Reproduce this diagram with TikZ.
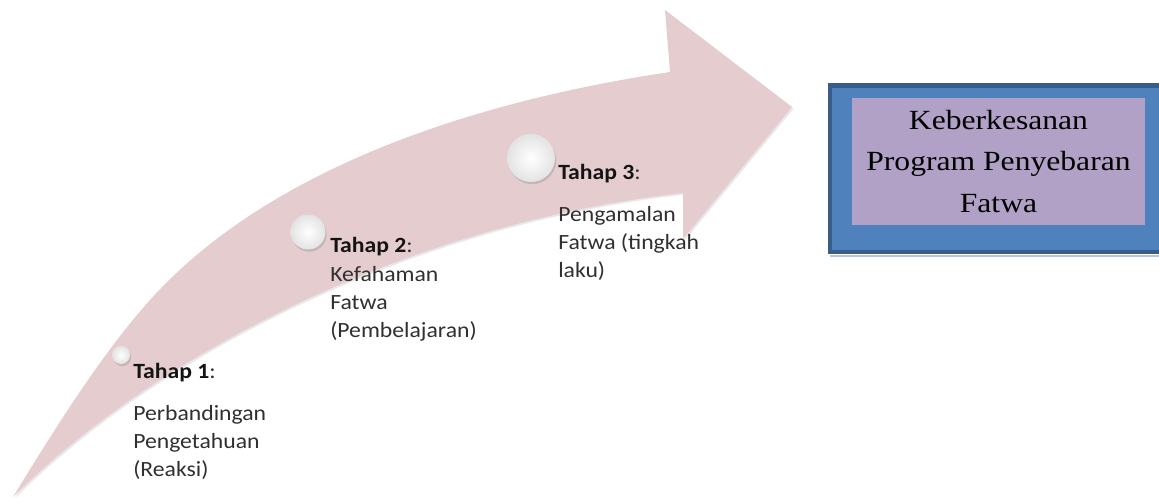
\documentclass[tikz,border=0pt]{standalone}
\usepackage{fontspec}
\newfontfamily\calib[FakeStretch=1.09]{Carlito}
\newfontfamily\timesr[FakeStretch=1.14]{Liberation Serif}
\usetikzlibrary{shadows}
\definecolor{arrowpink}{RGB}{229,204,206}
\definecolor{boxblue}{RGB}{79,129,189}
\definecolor{boxedge}{RGB}{56,93,138}
\definecolor{boxpurple}{RGB}{178,161,199}
\definecolor{txtgray}{RGB}{48,48,48}
\definecolor{txtdark}{RGB}{20,20,20}
\begin{document}
\begin{tikzpicture}[x=0.75pt,y=-0.75pt,
  steptitle/.style={anchor=base west, inner sep=0pt, text=txtgray,
    font=\calib\fontsize{16.3}{21}\selectfont},
  stepbody/.style={anchor=base west, inner sep=0pt, align=left, text=txtgray,
    font=\calib\fontsize{16.3}{21}\selectfont},
  pearl/.style={inner color=white, outer color=black!11},
  pearlshadow/.style={fill=black!45, opacity=0.35},
  goalbox/.style={fill=boxpurple, inner sep=0pt, align=center, text=black,
    minimum width=219.75pt, minimum height=95.25pt,
    font=\timesr\fontsize{20.8}{31.3}\selectfont}]
\useasboundingbox (0,0) rectangle (1159,498);
\clip (0,0) rectangle (1159,498);
\fill[white] (0,0) rectangle (1159,498);

% curved arrow
\path[fill=arrowpink, drop shadow={opacity=0.18, shadow xshift=1.2pt, shadow yshift=-1.2pt}]
  (13,497) .. controls (60,420) and (105,350) .. (150,300)
  .. controls (260,178) and (450,105) .. (670,72)
  -- (665,10) -- (792,107) -- (683,239) -- (683,193)
  .. controls (400,225) and (150,360) .. (13,497) -- cycle;

% pearls
\foreach \cx/\cy/\r in {121/355/9, 308/232/17.5, 531/158/24}{
  \fill[pearlshadow] (\cx+1.2,\cy+2.2) circle (\r);
  \shade[pearl] (\cx,\cy) circle (\r);
}

% step texts (base anchor of a multi-line node = last line)
\node[steptitle] (t1) at (133,379) {{\color{txtdark}\bfseries Tahap 1}:};
\node[stepbody]  (b1) at (133,476) {Perbandingan\\Pengetahuan\\(Reaksi)};
\node[steptitle] (t2) at (330,253) {{\color{txtdark}\bfseries Tahap 2}:};
\node[stepbody]  (b2) at (330,338) {Kefahaman\\Fatwa\\(Pembelajaran)};
\node[steptitle] (t3) at (558,180) {{\color{txtdark}\bfseries Tahap 3}:};
\node[stepbody]  (b3) at (558,278) {Pengamalan\\Fatwa (tingkah\\laku)};

% goal box
\draw[boxedge!35, line width=1pt] (830,256) -- (1159,256);
\path[fill=boxblue, draw=boxedge, line width=3.5pt] (830,85.5) rectangle (1185,252);
\node[goalbox] (goal) at (998.5,161.5) {Keberkesanan\\Program Penyebaran\\Fatwa};
\end{tikzpicture}
\end{document}
